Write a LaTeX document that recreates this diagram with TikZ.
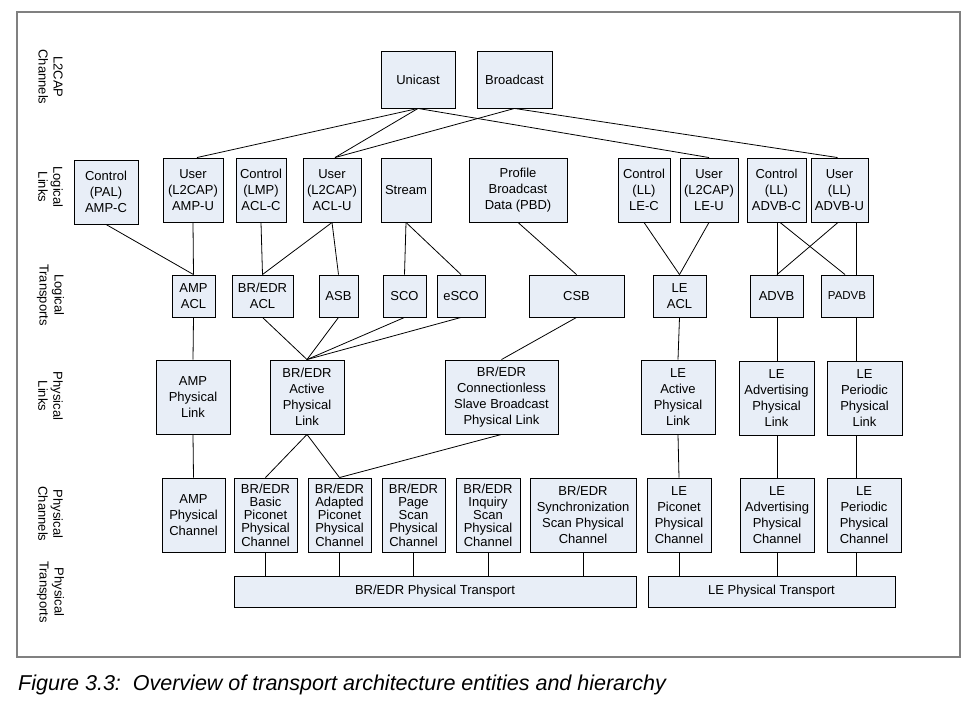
\documentclass[tikz,border=0pt]{standalone}
\usepackage{fontspec}
\setmainfont{Liberation Sans}
\definecolor{boxfill}{RGB}{232,238,247}
\definecolor{framegray}{RGB}{128,128,128}
\begin{document}
\begin{tikzpicture}[x=1pt,y=-1pt,
  box/.style={draw=black,line width=0.9pt,fill=boxfill,inner sep=0pt,align=center,
    font=\fontsize{13}{16}\selectfont},
  side/.style={rotate=-90,align=center,inner sep=0pt,font=\fontsize{13}{15}\selectfont},
  conn/.style={line width=0.8pt,black}]
\useasboundingbox (0,0) rectangle (967,703);
\fill[white] (0,0) rectangle (967,703);
\draw[framegray,line width=1.8pt] (17,12) rectangle (960,657);

% side labels
\node[side] (lL2) at (50.5,77) {L2CAP\\Channels};
\node[side] (lLL) at (50.5,187) {Logical\\Links};
\node[side] (lLT) at (50.5,295) {Logical\\Transports};
\node[side] (lPL) at (50.5,396) {Physical\\Links};
\node[side] (lPC) at (50.5,514) {Physical\\Channels};
\node[side] (lPT) at (50.5,592) {Physical\\Transports};

% L2CAP channels
\node[box,minimum width=74,minimum height=57] (unicast) at (418,79.5) {Unicast};
\node[box,minimum width=75,minimum height=57] (broadcast) at (514.5,79.5) {Broadcast};

% logical links
\node[box,minimum width=64,minimum height=64] (ampc) at (106,192) {Control\\(PAL)\\AMP-C};
\node[box,minimum width=60,minimum height=64] (ampu) at (193,190) {User\\(L2CAP)\\AMP-U};
\node[box,minimum width=50,minimum height=64] (aclc) at (261,190) {Control\\(LMP)\\ACL-C};
\node[box,minimum width=58,minimum height=64] (aclu) at (332,190) {User\\(L2CAP)\\ACL-U};
\node[box,minimum width=50,minimum height=64] (stream) at (406,190) {Stream};
\node[box,minimum width=98,minimum height=64] (pbd) at (518,190) {Profile\\Broadcast\\Data (PBD)};
\node[box,minimum width=52,minimum height=64] (lec) at (644,190) {Control\\(LL)\\LE-C};
\node[box,minimum width=58,minimum height=64] (leu) at (709,190) {User\\(L2CAP)\\LE-U};
\node[box,minimum width=59,minimum height=64] (advbc) at (776.5,190) {Control\\(LL)\\ADVB-C};
\node[box,minimum width=57,minimum height=64] (advbu) at (839.5,190) {User\\(LL)\\ADVB-U};

% logical transports
\node[box,minimum width=43,minimum height=42] (ampacl) at (193.5,296) {AMP\\ACL};
\node[box,minimum width=61,minimum height=42] (bracl) at (262.5,296) {BR/EDR\\ACL};
\node[box,minimum width=39,minimum height=42] (asb) at (338.5,296) {ASB};
\node[box,minimum width=43,minimum height=42] (sco) at (404.5,296) {SCO};
\node[box,minimum width=48,minimum height=42] (esco) at (461,296) {eSCO};
\node[box,minimum width=95,minimum height=42] (csb) at (576.5,296) {CSB};
\node[box,minimum width=53,minimum height=42] (leacl) at (679.5,296) {LE\\ACL};
\node[box,minimum width=53,minimum height=42] (advb) at (776.5,296) {ADVB};
\node[box,minimum width=52,minimum height=42,font=\fontsize{11.5}{14}\selectfont] (padvb) at (847,296) {PADVB};

% physical links
\node[box,minimum width=74,minimum height=74] (amppl) at (193,397) {AMP\\Physical\\Link};
\node[box,minimum width=74,minimum height=74] (brpl) at (307,397) {BR/EDR\\Active\\Physical\\Link};
\node[box,minimum width=113,minimum height=74] (cslpl) at (501.5,397) {BR/EDR\\Connectionless\\Slave Broadcast\\Physical Link};
\node[box,minimum width=74,minimum height=74] (leapl) at (678,397) {LE\\Active\\Physical\\Link};
\node[box,minimum width=75,minimum height=74] (leadvpl) at (776.5,398) {LE\\Advertising\\Physical\\Link};
\node[box,minimum width=75,minimum height=74] (leperpl) at (864.5,398) {LE\\Periodic\\Physical\\Link};

% physical channels
\node[box,minimum width=63,minimum height=74] (ampch) at (193.5,515) {AMP\\Physical\\Channel};
\node[box,minimum width=63,minimum height=74,font=\fontsize{13}{13.3}\selectfont] (basic) at (265.5,515) {BR/EDR\\Basic\\Piconet\\Physical\\Channel};
\node[box,minimum width=63,minimum height=74,font=\fontsize{13}{13.3}\selectfont] (adapted) at (339.5,515) {BR/EDR\\Adapted\\Piconet\\Physical\\Channel};
\node[box,minimum width=63,minimum height=74,font=\fontsize{13}{13.3}\selectfont] (page) at (413.5,515) {BR/EDR\\Page\\Scan\\Physical\\Channel};
\node[box,minimum width=64,minimum height=74,font=\fontsize{13}{13.3}\selectfont] (inquiry) at (488,515) {BR/EDR\\Inquiry\\Scan\\Physical\\Channel};
\node[box,minimum width=106,minimum height=74] (sync) at (583,515) {BR/EDR\\Synchronization\\Scan Physical\\Channel};
\node[box,minimum width=64,minimum height=74] (lepic) at (679,515) {LE\\Piconet\\Physical\\Channel};
\node[box,minimum width=74,minimum height=74] (leadvch) at (777,515) {LE\\Advertising\\Physical\\Channel};
\node[box,minimum width=74,minimum height=74] (leperch) at (864,515) {LE\\Periodic\\Physical\\Channel};

% physical transports
\node[box,minimum width=402,minimum height=31] (brpt) at (435,591.5) {BR/EDR Physical Transport};
\node[box,minimum width=247,minimum height=31] (lept) at (771.5,591.5) {LE Physical Transport};

% column coordinates
\coordinate (colA) at (777,0);
\coordinate (colB) at (856,0);

% connectors: L2CAP -> logical links
\draw[conn] (unicast.south) -- ([xshift=4]ampu.north);
\draw[conn] (unicast.south) -- ([xshift=3]aclu.north);
\draw[conn] (broadcast.south) -- ([xshift=3]aclu.north);
\draw[conn] (unicast.south) -- (leu.north);
\draw[conn] (broadcast.south) -- ([xshift=-2]advbu.north);

% logical links -> logical transports
\draw[conn] (ampc.south) -- (ampacl.north);
\draw[conn] (ampu.south) -- (ampacl.north);
\draw[conn] (aclc.south) -- (bracl.north);
\draw[conn] (aclu.south) -- (bracl.north);
\draw[conn] (aclu.south) -- (asb.north);
\draw[conn] (stream.south) -- (sco.north);
\draw[conn] (stream.south) -- (esco.north);
\draw[conn] (pbd.south) -- (csb.north);
\draw[conn] (lec.south) -- (leacl.north);
\draw[conn] (leu.south) -- (leacl.north);
\draw[conn] (advbc.south -| colA) -- (advb.north -| colA);
\draw[conn] ([xshift=3.5]advbc.south) -- ([xshift=-2]padvb.north);
\draw[conn] ([xshift=-1.5]advbu.south) -- (advb.north -| colA);
\draw[conn] (advbu.south -| colB) -- (padvb.north -| colB);

% logical transports -> physical links
\draw[conn] (ampacl.south) -- (amppl.north);
\draw[conn] (bracl.south) -- (brpl.north);
\draw[conn] (asb.south) -- (brpl.north);
\draw[conn] (sco.south) -- (brpl.north);
\draw[conn] (esco.south) -- (brpl.north);
\draw[conn] (csb.south) -- (cslpl.north);
\draw[conn] (leacl.south) -- (leapl.north);
\draw[conn] (advb.south -| colA) -- (leadvpl.north -| colA);
\draw[conn] (padvb.south -| colB) -- (leperpl.north -| colB);

% physical links -> physical channels
\draw[conn] (amppl.south) -- (ampch.north);
\draw[conn] (brpl.south) -- (basic.north);
\draw[conn] (brpl.south) -- (adapted.north);
\draw[conn] (cslpl.south) -- (adapted.north);
\draw[conn] (leapl.south) -- (lepic.north);
\draw[conn] (leadvpl.south -| colA) -- (leadvch.north -| colA);
\draw[conn] (leperpl.south -| colB) -- (leperch.north -| colB);

% physical channels -> physical transports
\foreach \c in {basic,adapted,page,inquiry,sync}
  \draw[conn] (\c.south) -- (\c.south |- brpt.north);
\draw[conn] (lepic.south) -- (lepic.south |- lept.north);
\draw[conn] (leadvch.south -| colA) -- (lept.north -| colA);
\draw[conn] (leperch.south -| colB) -- (lept.north -| colB);

% caption
\node[anchor=base west,inner sep=0pt,font=\fontsize{21.5}{25}\selectfont\itshape] (caption) at (18,690) {Figure 3.3:\ \ Overview of transport architecture entities and hierarchy};
\end{tikzpicture}
\end{document}
